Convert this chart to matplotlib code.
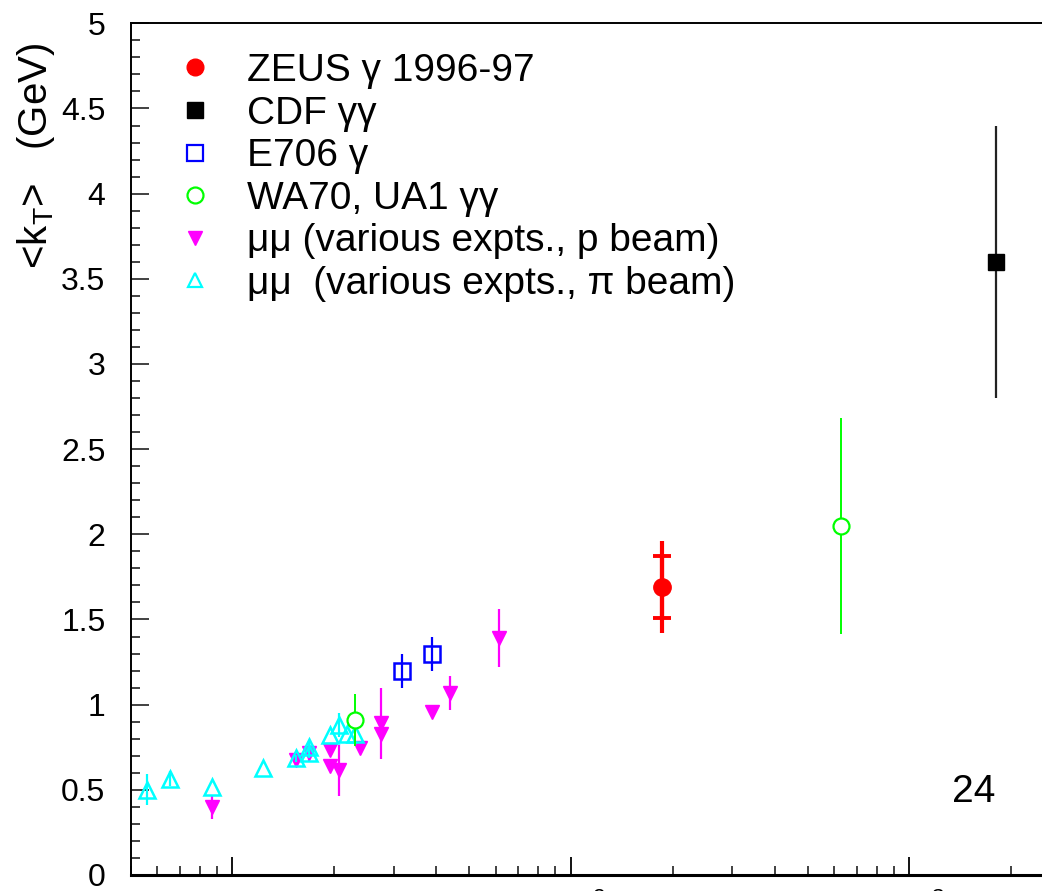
import matplotlib
matplotlib.use("Agg")
import matplotlib.pyplot as plt
import matplotlib.transforms as mtransforms
from matplotlib.lines import Line2D
import numpy as np

plt.rcParams['font.family'] = ['Liberation Sans', 'DejaVu Sans']
plt.rcParams['mathtext.fontset'] = 'custom'
plt.rcParams['mathtext.rm'] = 'Liberation Sans'
plt.rcParams['mathtext.it'] = 'Liberation Sans:italic'
plt.rcParams['mathtext.bf'] = 'Liberation Sans:bold'

# ---------------- data ----------------
zeus_x = [186.0]
zeus_y = [1.69]
zeus_stat = [0.18]
zeus_tot = [0.27]

cdf_x = [1800.0]
cdf_y = [3.60]
cdf_err = [0.80]

e706_x = [31.6, 38.8]
e706_y = [1.197, 1.297]
e706_err = [0.10, 0.10]

wa70_x = [22.96, 630.0]
wa70_y = [0.91, 2.05]
wa70_err = [0.155, 0.635]

mup_x = [8.71, 15.4, 16.8, 19.4, 19.4, 20.7, 23.8, 27.4, 27.4, 38.8, 44.0, 61.4]
mup_y = [0.40, 0.675, 0.714, 0.733, 0.64, 0.616, 0.747, 0.89, 0.83, 0.958, 1.066, 1.39]
mup_err = [0.07, 0.02, 0.05, 0.0, 0.0, 0.15, 0.0, 0.21, 0.0, 0.0, 0.10, 0.17]

mupi_x = [5.61, 6.52, 8.71, 12.3, 15.4, 16.8, 16.8, 19.4, 20.7, 21.8, 23.0]
mupi_y = [0.50, 0.565, 0.517, 0.63, 0.685, 0.718, 0.749, 0.82, 0.88, 0.83, 0.83]
mupi_err = [0.09, 0.045, 0.0, 0.0, 0.02, 0.03, 0.03, 0.0, 0.07, 0.0, 0.0]

labels = ["ZEUS γ 1996-97", "CDF γγ", "E706 γ",
          "WA70, UA1 γγ", "μμ (various expts., p beam)",
          "μμ  (various expts., π beam)"]

xticks = [10, 100, 1000]
xticklabels = ["10", r"$10^{2}$", r"$10^{3}$"]
yticks = [0, 0.5, 1, 1.5, 2, 2.5, 3, 3.5, 4, 4.5, 5]
yticklabels = ["0", "0.5", "1", "1.5", "2", "2.5", "3", "3.5", "4", "4.5", "5"]

# ---------------- figure ----------------
W, H = 1042, 891
fig = plt.figure(figsize=(W / 100, H / 100), dpi=100)
left_px, right_px, top_px, bot_px = 130.5, 1146.0, 23.3, 875.0
ax = fig.add_axes([left_px / W, 1 - bot_px / H, (right_px - left_px) / W, (bot_px - top_px) / H])
ax.set_xscale('log')
ax.set_xlim(5, 5000)
ax.set_ylim(0, 5)

RED = '#ff0000'
BLUE = '#0000ff'
GREEN = '#00ff00'
MAG = '#ff00ff'
CYAN = '#00ffff'

# p beam (filled down triangles)
ax.errorbar(mup_x, mup_y, yerr=mup_err, fmt='v', color=MAG, ms=10.5,
            elinewidth=1.6, capsize=0, zorder=3)
# pi beam (open up triangles)
ax.errorbar(mupi_x, mupi_y, yerr=mupi_err, fmt='^', color=CYAN, mfc='none', mec=CYAN,
            mew=1.8, ms=11, elinewidth=1.6, capsize=0, zorder=4)
# E706
ax.errorbar(e706_x, e706_y, yerr=e706_err, fmt='s', color=BLUE, mfc='none', mec=BLUE,
            mew=1.8, ms=11.5, elinewidth=1.6, capsize=0, zorder=5)
# WA70 / UA1
ax.errorbar(wa70_x, wa70_y, yerr=wa70_err, fmt='o', color=GREEN, mfc='white', mec=GREEN,
            mew=1.6, ms=11.5, elinewidth=1.4, capsize=0, zorder=5)
# CDF
ax.errorbar(cdf_x, cdf_y, yerr=cdf_err, fmt='s', color='#222222', mfc='black', mec='black',
            ms=11, elinewidth=1.6, capsize=0, zorder=5)
# ZEUS
ax.errorbar(zeus_x, zeus_y, yerr=zeus_tot, fmt='none', ecolor=RED, elinewidth=3.0,
            capsize=0, zorder=6)
ax.errorbar(zeus_x, zeus_y, yerr=zeus_stat, fmt='o', color=RED, ms=12.5, elinewidth=3.0,
            capsize=6.5, capthick=2.8, zorder=7)

# axes styling
ax.spines['right'].set_visible(False)
for s in ['left', 'bottom', 'top']:
    ax.spines[s].set_linewidth(1.4)
ax.spines['bottom'].set_linewidth(2.2)

ax.set_yticks(yticks)
ax.set_yticklabels(yticklabels)
ax.yaxis.set_minor_locator(matplotlib.ticker.MultipleLocator(0.1))
ax.set_xticks(xticks)
ax.set_xticklabels(xticklabels)
ax.xaxis.set_minor_locator(matplotlib.ticker.LogLocator(base=10, subs=np.arange(2, 10)))
ax.xaxis.set_minor_formatter(matplotlib.ticker.NullFormatter())

ax.tick_params(axis='y', which='major', direction='in', length=13, width=1.3,
               labelsize=23, pad=18, color='#333333')
ax.tick_params(axis='y', which='minor', direction='in', length=6.5, width=1.3, color='#333333')
ax.tick_params(axis='x', which='major', direction='in', length=13, width=1.3,
               labelsize=23, pad=13, color='black')
ax.tick_params(axis='x', which='minor', direction='in', length=6.5, width=1.3, color='#333333')
offset = mtransforms.ScaledTranslation(-10 / 72, 0, fig.dpi_scale_trans)
for lab in ax.get_xticklabels():
    lab.set_horizontalalignment('left')
    lab.set_transform(lab.get_transform() + offset)

# y label
fig.text(36 / W, 1 - 43 / H, r"<k$_{\mathrm{T}}$>   (GeV)", rotation=90, ha='center',
         va='top', fontsize=29)

# page number-like text
fig.text(974 / W, 1 - 792 / H, "24", ha='center', va='center', fontsize=28)

# legend
handles = [
    Line2D([], [], ls='none', marker='o', color=RED, ms=12),
    Line2D([], [], ls='none', marker='s', color='black', ms=11),
    Line2D([], [], ls='none', marker='s', mfc='none', mec=BLUE, mew=1.6, ms=11.5),
    Line2D([], [], ls='none', marker='o', mfc='none', mec=GREEN, mew=1.6, ms=11.5),
    Line2D([], [], ls='none', marker='v', color=MAG, ms=10),
    Line2D([], [], ls='none', marker='^', mfc='none', mec=CYAN, mew=1.6, ms=10),
]
ax.legend(handles, labels, loc='upper left', bbox_to_anchor=(177 / W, 1 - 53 / H),
          bbox_transform=fig.transFigure, frameon=False, fontsize=28,
          handlelength=0.95, handletextpad=0.85, labelspacing=0.17,
          borderpad=0, borderaxespad=0)

fig.savefig("out.png", dpi=100)
